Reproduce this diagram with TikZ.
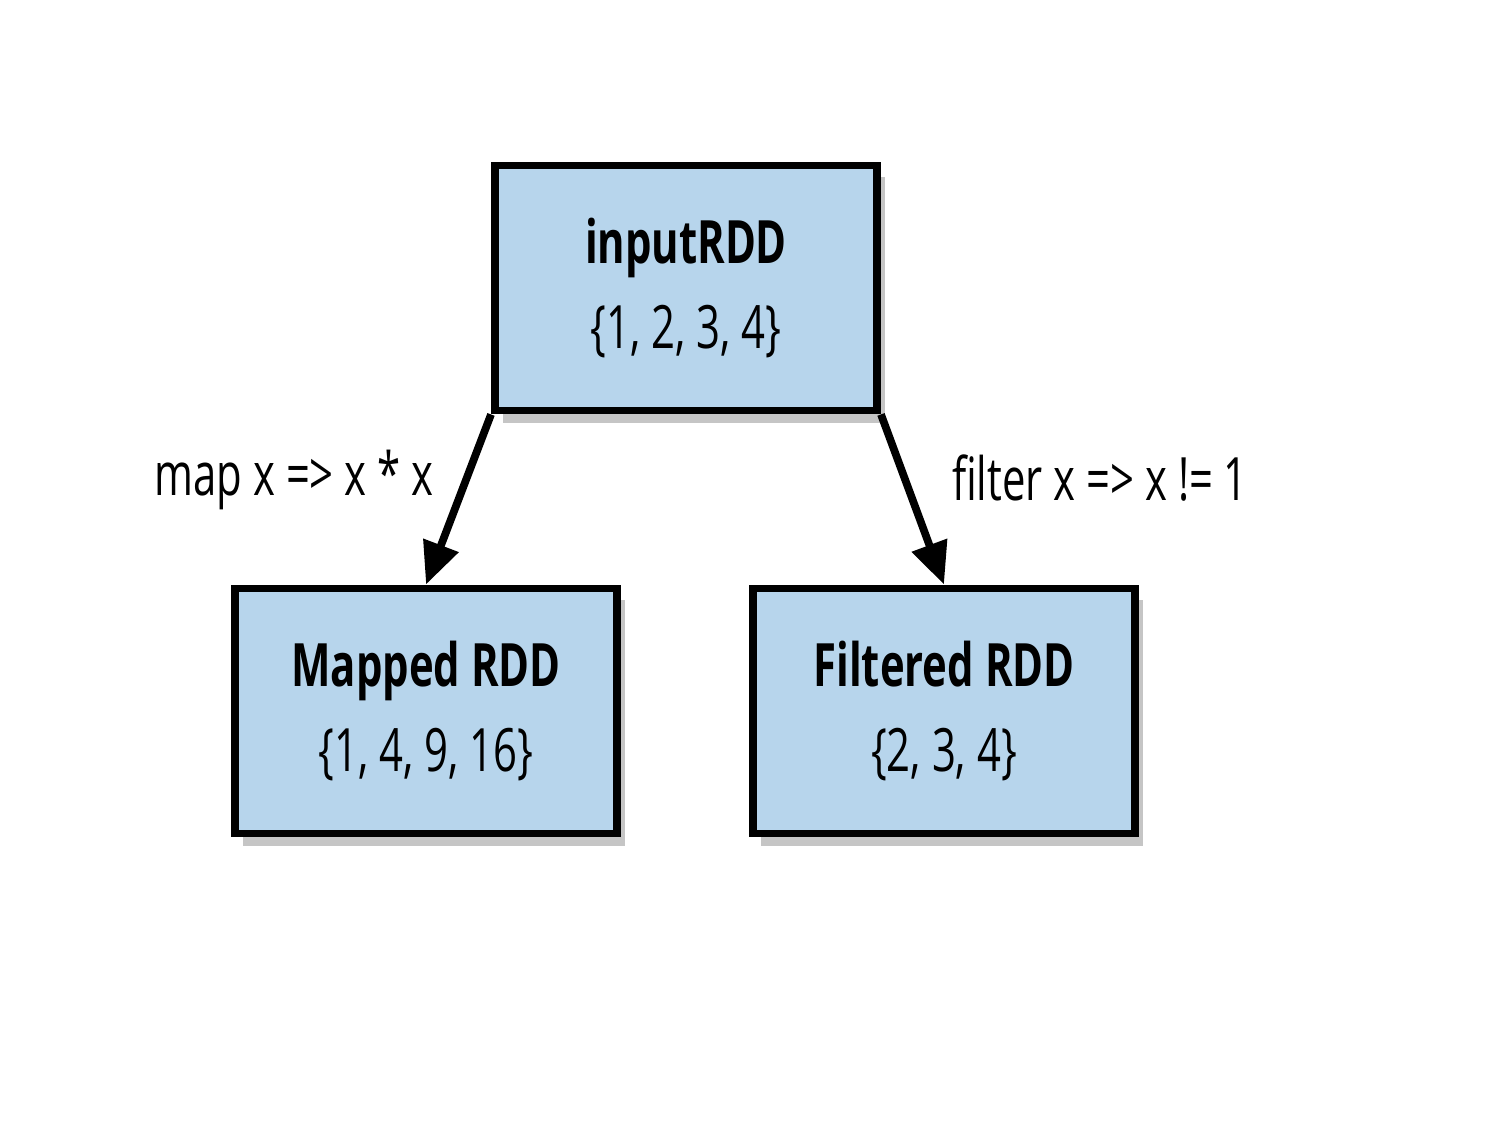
\documentclass[tikz,border=0pt]{standalone}
\usepackage{fontspec}
\setmainfont{Open Sans}
\usetikzlibrary{arrows.meta,shadows}
\definecolor{boxblue}{RGB}{183,213,236}
\tikzset{
  rdd/.style={draw=black, line width=2.2pt, fill=boxblue, minimum width=3.82cm, minimum height=2.45cm, align=center, font=\fontsize{17}{24}\selectfont, drop shadow={shadow xshift=0.08cm, shadow yshift=-0.12cm, fill=black!45, opacity=0.5}},
  conn/.style={line width=2.2pt, -{Triangle[length=0.42cm,width=0.36cm]}},
  lab/.style={font=\fontsize{17}{20}\selectfont}
}
\newcommand{\nar}[1]{\scalebox{0.7}[1]{#1}}
\begin{document}
\begin{tikzpicture}[x=0.01cm,y=-0.01cm]
\useasboundingbox (0,0) rectangle (1500,1125);
\node[rdd] (in) at (686,288) {\nar{\textbf{inputRDD}}\\\nar{\{1, 2, 3, 4\}}};
\node[rdd] (map) at (426,711) {\nar{\textbf{Mapped RDD}}\\\nar{\{1, 4, 9, 16\}}};
\node[rdd] (fil) at (944,711) {\nar{\textbf{Filtered RDD}}\\\nar{\{2, 3, 4\}}};
\draw[conn] (in.south west) -- (map.north);
\draw[conn] (in.south east) -- (fil.north);
\node[lab] (l1) at (294,480) {\nar{map x => x * x}};
\node[lab] (l2) at (1100,478) {\nar{filter x => x != 1}};
\end{tikzpicture}
\end{document}
